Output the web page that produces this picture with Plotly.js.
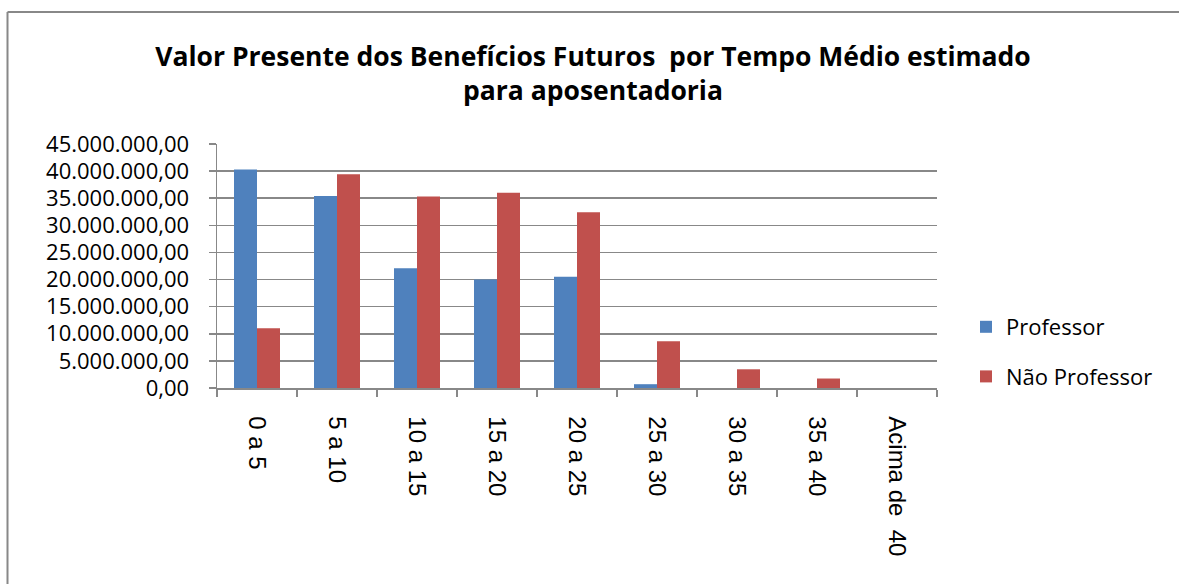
<!DOCTYPE html>
<html>
<head>
<meta charset="utf-8">
<script src="https://cdn.plot.ly/plotly-3.0.1.min.js"></script>
<style>
  html, body { margin: 0; padding: 0; background: #fff; }
  #chart { width: 1179px; height: 584px; }
</style>
</head>
<body>
<div id="chart"></div>
<script>
// Data
const categories = ["0 a 5", "5 a 10", "10 a 15", "15 a 20", "20 a 25", "25 a 30", "30 a 35", "35 a 40", "Acima de\u00a0\u00a040"];
const professor = [40300000, 35400000, 22100000, 20000000, 20500000, 700000, 0, 0, 0];
const naoProfessor = [11000000, 39400000, 35300000, 36000000, 32400000, 8600000, 3450000, 1750000, 0];
const seriesNames = ["Professor", "Não Professor"];
const titleText = "Valor Presente dos Benefícios Futuros\u00a0\u00a0por Tempo Médio estimado<br>para aposentadoria";

const grey = "#888888";

const traces = [
  {
    type: "bar", name: seriesNames[0], x: categories, y: professor,
    marker: { color: "#4F81BD", line: { width: 0 } },
    legendgroup: "a", hoverinfo: "x+y"
  },
  {
    type: "bar", name: seriesNames[1], x: categories, y: naoProfessor,
    marker: { color: "#C0504D", line: { width: 0 } },
    legendgroup: "b", hoverinfo: "x+y"
  }
];

// pixel helpers for paper coordinates of the frame
const L = 217, R = 937, T = 144, B = 388;
const px = v => (v - L) / (R - L);
const py = v => (B - v) / (B - T);

const layout = {
  width: 1179, height: 584,
  margin: { l: L, r: 1179 - R, t: T, b: 584 - B, pad: 0 },
  paper_bgcolor: "#ffffff", plot_bgcolor: "#ffffff",
  separators: ",.",
  barmode: "group", bargap: 0.425, bargroupgap: 0,
  showlegend: true,
  title: {
    text: titleText,
    font: { family: "Open Sans", size: 26.5, color: "#000000", weight: "bold" },
    xref: "container", x: 593 / 1179, xanchor: "center",
    yref: "container", y: 1 - 66 / 584, yanchor: "middle"
  },
  xaxis: {
    type: "category",
    showgrid: false,
    showline: true, linecolor: grey, linewidth: 1.5,
    ticks: "outside", tickson: "boundaries", ticklen: 7, tickcolor: grey, tickwidth: 1.5,
    tickangle: 90,
    ticklabelstandoff: 22,
    tickfont: { family: "Liberation Sans", size: 24, color: "#000000" },
    zeroline: false
  },
  yaxis: {
    range: [0, 45000000], dtick: 5000000, tick0: 0,
    tickformat: ",.2f",
    showgrid: true, gridcolor: grey, gridwidth: 1.5,
    showline: true, linecolor: grey, linewidth: 1.5,
    ticks: "outside", ticklen: 7, tickcolor: grey, tickwidth: 1.5,
    ticklabelstandoff: 15,
    tickfont: { family: "Open Sans", size: 22, color: "#000000" },
    zeroline: false
  },
  legend: {
    x: px(966), xanchor: "left",
    y: py(352), yanchor: "middle",
    font: { family: "Open Sans", size: 22, color: "#000000" },
    tracegroupgap: 18,
    traceorder: "grouped",
    bgcolor: "rgba(0,0,0,0)",
    itemclick: false
  },
  shapes: [
    { type: "line", xref: "paper", yref: "paper", x0: px(7.5), x1: px(1180), y0: py(12), y1: py(12), line: { color: grey, width: 2 } },
    { type: "line", xref: "paper", yref: "paper", x0: px(7.5), x1: px(7.5), y0: py(12), y1: py(590), line: { color: grey, width: 2 } }
  ]
};

Plotly.newPlot("chart", traces, layout, { displayModeBar: false, responsive: false, staticPlot: true });
</script>
</body>
</html>
